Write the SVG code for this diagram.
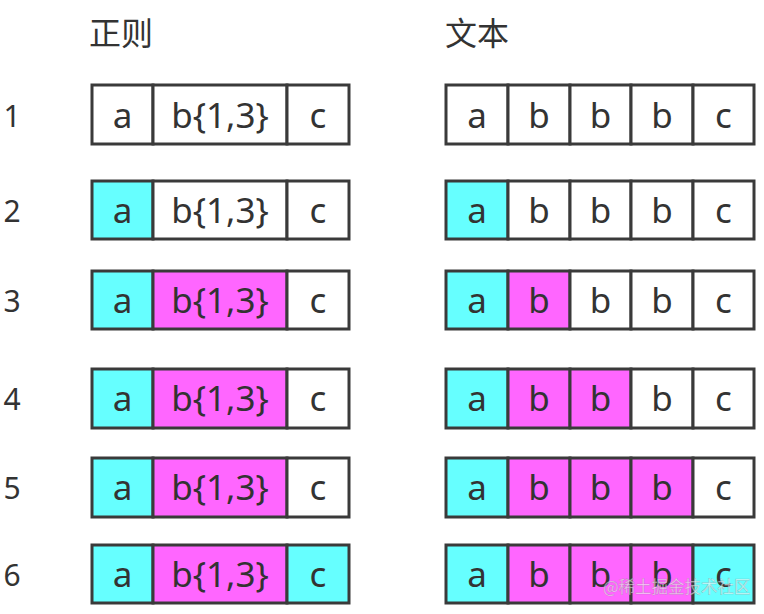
<svg xmlns="http://www.w3.org/2000/svg" width="764" height="614" viewBox="0 0 764 614">
<style>
.c{stroke:#3a3a3a;stroke-width:3;fill:#fff}
.y{fill:#6ff}
.m{fill:#f6f}
.t{font-family:"Noto Sans","DejaVu Sans",sans-serif;font-size:35px;fill:#333;text-anchor:middle}
.n{font-family:"Noto Sans","DejaVu Sans",sans-serif;font-size:30px;fill:#333;text-anchor:middle}
.h{font-family:"Noto Sans CJK SC",sans-serif;font-size:32px;fill:#333}
.w{font-family:"Noto Sans CJK SC",sans-serif;font-size:16.5px;fill:#fff;fill-opacity:0.6;stroke:#777;stroke-opacity:0.4;stroke-width:0.6}
</style>
<rect width="764" height="614" fill="#fff"/>
<g id="headers">
<text class="h" x="89" y="45">正则</text>
<text class="h" x="445" y="45">文本</text>
</g>
<g id="row1" transform="translate(0,85)">
<text class="n" x="12" y="42">1</text>
<rect class="c" x="92" y="0" width="61" height="59"/><rect class="c" x="153" y="0" width="134" height="59"/><rect class="c" x="287" y="0" width="62" height="59"/>
<text class="t" x="122.5" y="43">a</text><text class="t" x="220" y="43">b{1,3}</text><text class="t" x="318" y="43">c</text>
<rect class="c" x="446" y="0" width="62" height="59"/><rect class="c" x="508" y="0" width="62" height="59"/><rect class="c" x="570" y="0" width="61" height="59"/><rect class="c" x="631" y="0" width="62" height="59"/><rect class="c" x="693" y="0" width="61" height="59"/>
<text class="t" x="477" y="43">a</text><text class="t" x="539" y="43">b</text><text class="t" x="600.5" y="43">b</text><text class="t" x="662" y="43">b</text><text class="t" x="723.5" y="43">c</text>
</g>
<g id="row2" transform="translate(0,181)">
<text class="n" x="12" y="41">2</text>
<rect class="c y" x="92" y="0" width="61" height="58"/><rect class="c" x="153" y="0" width="134" height="58"/><rect class="c" x="287" y="0" width="62" height="58"/>
<text class="t" x="122.5" y="42">a</text><text class="t" x="220" y="42">b{1,3}</text><text class="t" x="318" y="42">c</text>
<rect class="c y" x="446" y="0" width="62" height="58"/><rect class="c" x="508" y="0" width="62" height="58"/><rect class="c" x="570" y="0" width="61" height="58"/><rect class="c" x="631" y="0" width="62" height="58"/><rect class="c" x="693" y="0" width="61" height="58"/>
<text class="t" x="477" y="42">a</text><text class="t" x="539" y="42">b</text><text class="t" x="600.5" y="42">b</text><text class="t" x="662" y="42">b</text><text class="t" x="723.5" y="42">c</text>
</g>
<g id="row3" transform="translate(0,271)">
<text class="n" x="12" y="41">3</text>
<rect class="c y" x="92" y="0" width="61" height="58"/><rect class="c m" x="153" y="0" width="134" height="58"/><rect class="c" x="287" y="0" width="62" height="58"/>
<text class="t" x="122.5" y="42">a</text><text class="t" x="220" y="42">b{1,3}</text><text class="t" x="318" y="42">c</text>
<rect class="c y" x="446" y="0" width="62" height="58"/><rect class="c m" x="508" y="0" width="62" height="58"/><rect class="c" x="570" y="0" width="61" height="58"/><rect class="c" x="631" y="0" width="62" height="58"/><rect class="c" x="693" y="0" width="61" height="58"/>
<text class="t" x="477" y="42">a</text><text class="t" x="539" y="42">b</text><text class="t" x="600.5" y="42">b</text><text class="t" x="662" y="42">b</text><text class="t" x="723.5" y="42">c</text>
</g>
<g id="row4" transform="translate(0,369)">
<text class="n" x="12" y="41">4</text>
<rect class="c y" x="92" y="0" width="61" height="59"/><rect class="c m" x="153" y="0" width="134" height="59"/><rect class="c" x="287" y="0" width="62" height="59"/>
<text class="t" x="122.5" y="42">a</text><text class="t" x="220" y="42">b{1,3}</text><text class="t" x="318" y="42">c</text>
<rect class="c y" x="446" y="0" width="62" height="59"/><rect class="c m" x="508" y="0" width="62" height="59"/><rect class="c m" x="570" y="0" width="61" height="59"/><rect class="c" x="631" y="0" width="62" height="59"/><rect class="c" x="693" y="0" width="61" height="59"/>
<text class="t" x="477" y="42">a</text><text class="t" x="539" y="42">b</text><text class="t" x="600.5" y="42">b</text><text class="t" x="662" y="42">b</text><text class="t" x="723.5" y="42">c</text>
</g>
<g id="row5" transform="translate(0,458)">
<text class="n" x="12" y="41">5</text>
<rect class="c y" x="92" y="0" width="61" height="59"/><rect class="c m" x="153" y="0" width="134" height="59"/><rect class="c" x="287" y="0" width="62" height="59"/>
<text class="t" x="122.5" y="42">a</text><text class="t" x="220" y="42">b{1,3}</text><text class="t" x="318" y="42">c</text>
<rect class="c y" x="446" y="0" width="62" height="59"/><rect class="c m" x="508" y="0" width="62" height="59"/><rect class="c m" x="570" y="0" width="61" height="59"/><rect class="c m" x="631" y="0" width="62" height="59"/><rect class="c" x="693" y="0" width="61" height="59"/>
<text class="t" x="477" y="42">a</text><text class="t" x="539" y="42">b</text><text class="t" x="600.5" y="42">b</text><text class="t" x="662" y="42">b</text><text class="t" x="723.5" y="42">c</text>
</g>
<g id="row6" transform="translate(0,545)">
<text class="n" x="12" y="41">6</text>
<rect class="c y" x="92" y="0" width="61" height="58"/><rect class="c m" x="153" y="0" width="134" height="58"/><rect class="c y" x="287" y="0" width="62" height="58"/>
<text class="t" x="122.5" y="42">a</text><text class="t" x="220" y="42">b{1,3}</text><text class="t" x="318" y="42">c</text>
<rect class="c y" x="446" y="0" width="62" height="58"/><rect class="c m" x="508" y="0" width="62" height="58"/><rect class="c m" x="570" y="0" width="61" height="58"/><rect class="c m" x="631" y="0" width="62" height="58"/><rect class="c y" x="693" y="0" width="61" height="58"/>
<text class="t" x="477" y="42">a</text><text class="t" x="539" y="42">b</text><text class="t" x="600.5" y="42">b</text><text class="t" x="662" y="42">b</text><text class="t" x="723.5" y="42">c</text>
</g>
<g id="connectors"></g>
<text class="w" x="603" y="593">@稀土掘金技术社区</text>
</svg>
